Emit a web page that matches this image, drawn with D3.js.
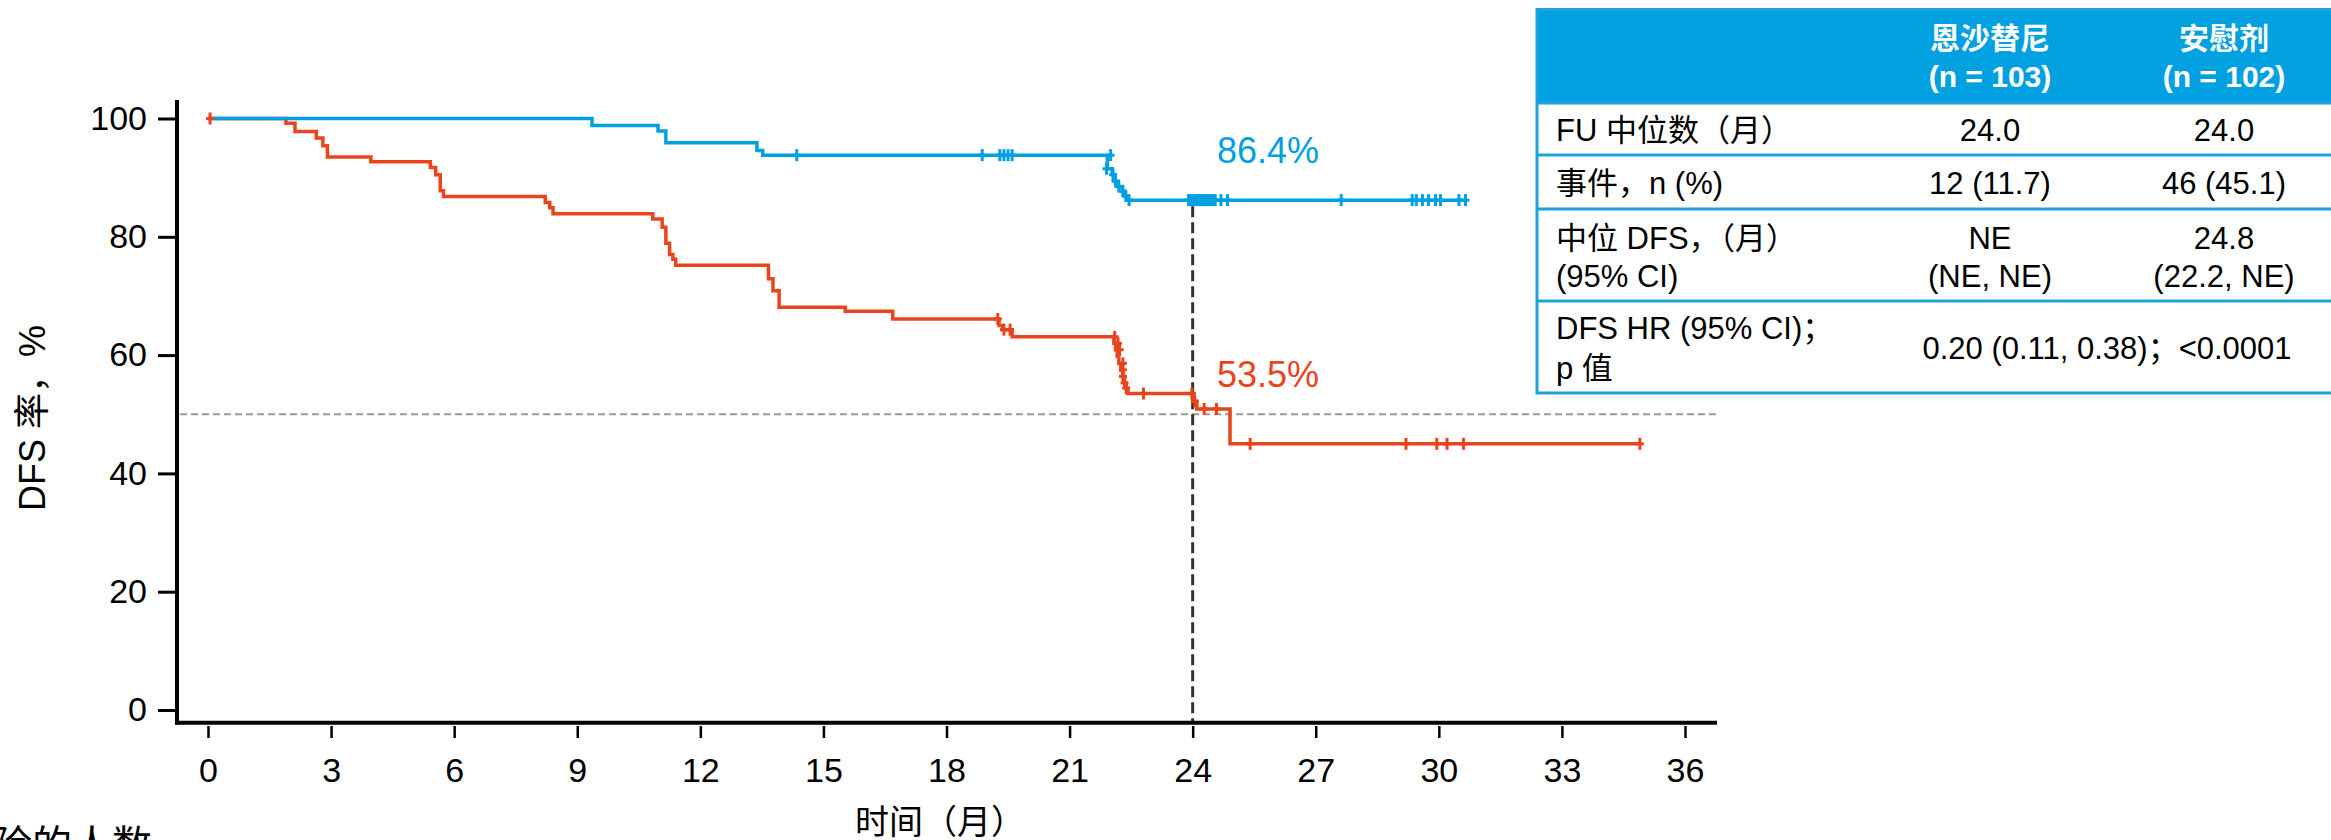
<!DOCTYPE html>
<html><head><meta charset="utf-8">
<script src="https://cdn.jsdelivr.net/npm/d3@7"></script>
<style>body{margin:0;background:#fff;overflow:hidden}svg{display:block}</style>
</head><body>
<svg id="chart" width="2331" height="840"></svg>
<script>
// ---------------- data ----------------
const xTicks = [0, 3, 6, 9, 12, 15, 18, 21, 24, 27, 30, 33, 36];
const yTicks = [0, 20, 40, 60, 80, 100];

// Ensartinib (blue) step curve
const blueTimes = [0, 9.36, 10.97, 11.16, 13.38, 13.52, 21.92, 22.04, 22.10, 22.18, 22.28, 22.35, 22.43];
const blueSurv  = [100, 98.8, 97.9, 95.9, 94.6, 93.8, 91.5, 90.5, 89.4, 88.5, 87.7, 86.9, 86.2];
const blueEnd = 30.65;
const blueCensorTimes = [14.35, 18.87, 19.30, 19.40, 19.50, 19.60, 22.00, 21.90, 22.06, 22.12, 22.20, 22.30, 22.37, 22.45,
  23.90, 23.95, 24.00, 24.05, 24.10, 24.15, 24.20, 24.25, 24.30, 24.35, 24.40, 24.45, 24.50, 24.55,
  24.69, 24.85, 27.62, 29.35, 29.45, 29.60, 29.75, 29.92, 30.04, 30.49, 30.65];
const blueCensorSurv = [93.8, 93.8, 93.8, 93.8, 93.8, 93.8, 93.8, 91.5, 90.5, 89.4, 88.5, 87.7, 86.9, 86.2,
  86.2, 86.2, 86.2, 86.2, 86.2, 86.2, 86.2, 86.2, 86.2, 86.2, 86.2, 86.2, 86.2, 86.2,
  86.2, 86.2, 86.2, 86.2, 86.2, 86.2, 86.2, 86.2, 86.2, 86.2, 86.2];

// Placebo (red) step curve
const redTimes = [0, 1.90, 2.12, 2.64, 2.80, 2.91, 3.97, 5.42, 5.55, 5.66, 5.74, 8.22, 8.33, 8.41, 10.84, 11.07, 11.16, 11.25, 11.33, 11.40,
  13.66, 13.77, 13.92, 15.53, 16.69, 19.28, 19.37, 19.60, 22.08, 22.12, 22.16, 22.20, 22.25, 22.30, 22.34, 22.38, 22.42, 24.02, 24.10, 24.91];
const redSurv  = [100, 99.2, 97.8, 96.7, 95.4, 93.5, 92.7, 91.7, 90.5, 87.8, 86.8, 85.8, 84.9, 83.9, 83.0, 81.6, 78.9, 77.0, 76.2, 75.2,
  72.9, 70.9, 68.1, 67.4, 66.1, 65.0, 64.3, 63.1, 62.0, 60.9, 59.8, 58.6, 57.5, 56.4, 55.3, 54.4, 53.5, 52.2, 50.9, 45.0];
const redEnd = 34.90;
const redCensorTimes = [0.05, 19.25, 19.40, 19.55, 22.10, 22.18, 22.22, 22.30, 22.30, 22.30, 22.34, 22.38, 22.80,
  23.98, 24.05, 24.28, 24.58, 25.40, 29.20, 29.95, 30.20, 30.60, 34.90];
const redCensorSurv = [100, 66.1, 64.3, 64.3, 63.1, 62.0, 60.9, 58.6, 57.5, 56.4, 55.3, 54.4, 53.5,
  53.5, 52.2, 50.9, 50.9, 45.0, 45.0, 45.0, 45.0, 45.0, 45.0];

const landmarkTime = 24;
const medianLine = 50;
const blueLabel = "86.4%";
const redLabel = "53.5%";

// table
const headerCols = [["恩沙替尼", "(n = 103)"], ["安慰剂", "(n = 102)"]];
const rowLabels = [["FU 中位数（月）"], ["事件，n (%)"], ["中位 DFS，（月）", "(95% CI)"], ["DFS HR (95% CI)；", "p 值"]];
const col1Values = [["24.0"], ["12 (11.7)"], ["NE", "(NE, NE)"]];
const col2Values = [["24.0"], ["46 (45.1)"], ["24.8", "(22.2, NE)"]];
const hrValue = "0.20 (0.11, 0.38)；<0.0001";

const titleText = "主要终点：独立评审 DFS 分析（ITT 人群）";
const xTitle = "时间（月）";
const yTitle = "DFS 率，%";
const atRiskTitle = "处于风险的人数";

// ---------------- drawing ----------------
const BLUE = "#00a0e1", RED = "#e9441c";
const FONT = "'Liberation Sans', Arial, 'Noto Sans CJK SC', sans-serif";
const svg = d3.select("#chart").style("font-family", FONT);

const x = d3.scaleLinear().domain([0, 36]).range([208, 1685]);
const y = d3.scaleLinear().domain([0, 100]).range([710, 118.5]);

// title (mostly cut off at top, as in the reference)
svg.append("text").attr("x", 1125).attr("y", -4).attr("text-anchor", "middle")
  .attr("font-size", 34).text(titleText);

// reference dashed line at 50%
svg.append("line").attr("x1", 180).attr("x2", 1717).attr("y1", y(medianLine)).attr("y2", y(medianLine))
  .attr("stroke", "#999").attr("stroke-width", 2).attr("stroke-dasharray", "7,4");

// vertical landmark line
svg.append("line").attr("x1", x(landmarkTime)).attr("x2", x(landmarkTime))
  .attr("y1", y(blueSurv[blueSurv.length - 1]) + 6).attr("y2", 722)
  .attr("stroke", "#333").attr("stroke-width", 3).attr("stroke-dasharray", "11,5");

// axes
const yAxis = d3.axisLeft(y).tickValues(yTicks).tickSize(19).tickPadding(11);
const gy = svg.append("g").attr("transform", "translate(177,0)").call(yAxis);
gy.select(".domain").remove();
gy.selectAll(".tick line").attr("stroke", "#000").attr("stroke-width", 3);
gy.selectAll(".tick text").attr("font-size", 34).attr("fill", "#000").attr("font-family", FONT);

const xAxis = d3.axisBottom(x).tickValues(xTicks).tickSize(12).tickPadding(20);
const gx = svg.append("g").attr("transform", "translate(0,726)").call(xAxis);
gx.select(".domain").remove();
gx.selectAll(".tick line").attr("stroke", "#000").attr("stroke-width", 2.5);
gx.selectAll(".tick text").attr("font-size", 34).attr("fill", "#000").attr("font-family", FONT);

svg.append("line").attr("x1", 177).attr("x2", 177).attr("y1", 100).attr("y2", 724.5)
  .attr("stroke", "#000").attr("stroke-width", 4);
svg.append("line").attr("x1", 175).attr("x2", 1717).attr("y1", 722.7).attr("y2", 722.7)
  .attr("stroke", "#000").attr("stroke-width", 4);

// curves
const line = d3.line().curve(d3.curveStepAfter).x(d => x(d[0])).y(d => y(d[1]));
function curve(times, surv, end, color) {
  const pts = times.map((t, i) => [t, surv[i]]);
  pts.push([end, surv[surv.length - 1]]);
  svg.append("path").attr("d", line(pts)).attr("fill", "none")
    .attr("stroke", color).attr("stroke-width", 3.5).attr("stroke-linejoin", "miter");
}
function censors(times, surv, color) {
  const g = svg.append("g").attr("stroke", color).attr("stroke-width", 3);
  times.forEach((t, i) => {
    const cx = x(t), cy = y(surv[i]);
    g.append("line").attr("x1", cx).attr("x2", cx).attr("y1", cy - 6).attr("y2", cy + 6);
    g.append("line").attr("x1", cx - 4).attr("x2", cx + 4).attr("y1", cy).attr("y2", cy);
  });
}
curve(redTimes, redSurv, redEnd, RED);
curve(blueTimes, blueSurv, blueEnd, BLUE);
censors(redCensorTimes, redCensorSurv, RED);
censors(blueCensorTimes, blueCensorSurv, BLUE);

// percent labels
svg.append("text").attr("x", 1217).attr("y", 162.5).attr("font-size", 36).attr("fill", BLUE).text(blueLabel);
svg.append("text").attr("x", 1217).attr("y", 387).attr("font-size", 36).attr("fill", RED).text(redLabel);

// axis titles
svg.append("text").attr("transform", "translate(45,418) rotate(-90)").attr("text-anchor", "middle")
  .attr("font-size", 36).text(yTitle);
svg.append("text").attr("x", 940).attr("y", 834).attr("text-anchor", "middle")
  .attr("font-size", 34).text(xTitle);
svg.append("text").attr("x", 152).attr("y", 859).attr("text-anchor", "end")
  .attr("font-size", 40).text(atRiskTitle);

// ---------------- table ----------------
const TB = "#1ea2de";
const tLeft = 1537, tRight = 2345, tTop = 9.5;
const rowLines = [103, 155, 209, 301, 393];
const colX = [1990, 2224];
const labelX = 1556;
const fs = 31;
const tg = svg.append("g");
tg.append("rect").attr("x", tLeft).attr("y", tTop).attr("width", tRight - tLeft).attr("height", rowLines[0] - tTop).attr("fill", "#00a0e1");
tg.append("rect").attr("x", tLeft).attr("y", tTop).attr("width", tRight - tLeft).attr("height", rowLines[4] - tTop)
  .attr("fill", "none").attr("stroke", TB).attr("stroke-width", 3);
rowLines.slice(0, 4).forEach(yy => tg.append("line").attr("x1", tLeft).attr("x2", tRight).attr("y1", yy).attr("y2", yy)
  .attr("stroke", TB).attr("stroke-width", 3));

function txt(xx, cy, s, anchor, opts = {}) {
  tg.append("text").attr("x", xx).attr("y", cy + fs * 0.36).attr("text-anchor", anchor)
    .attr("font-size", opts.size || fs).attr("font-weight", opts.bold ? "bold" : "normal")
    .attr("fill", opts.color || "#000").text(s);
}
const headerY = [38, 76];
headerCols.forEach((lines, c) => lines.forEach((s, k) => txt(colX[c], headerY[k], s, "middle", {bold: true, color: "#fff", size: 30})));

const rowTextY = [[130], [183], [237.5, 275.5], [328, 368]];
rowLabels.forEach((lines, r) => lines.forEach((s, k) => txt(labelX, rowTextY[r][k], s, "start")));
col1Values.forEach((lines, r) => lines.forEach((s, k) => txt(colX[0], rowTextY[r][k], s, "middle")));
col2Values.forEach((lines, r) => lines.forEach((s, k) => txt(colX[1], rowTextY[r][k], s, "middle")));
txt((colX[0] + colX[1]) / 2, 348, hrValue, "middle");
</script>
</body></html>
